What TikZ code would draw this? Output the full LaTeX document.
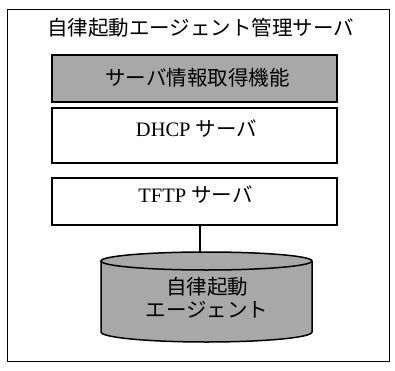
\documentclass[tikz,border=0pt]{standalone}
\usepackage{fontspec}
\setmainfont{Liberation Serif}
\newfontfamily\jp{Noto Sans CJK JP}
\definecolor{dotgray}{HTML}{A8A8A8}
\begin{document}
\begin{tikzpicture}[x=1pt,y=1pt,
  txt/.style={font=\fontsize{20.5}{24}\selectfont, inner sep=0pt},
  box/.style={draw=black, line width=1.5pt, minimum width=285pt, inner sep=0pt},
  graybox/.style={box, fill=dotgray},
  conn/.style={draw=black, line width=1.2pt}]
\useasboundingbox (0,0) rectangle (395,370);
% outer frame
\node[draw=black, line width=1pt, minimum width=382pt, minimum height=351pt, inner sep=0pt] (frame) at (198,184.5) {};
\node[txt] (title) at (200.5,342) {\jp 自律起動エージェント管理サーバ};
% boxes
\node[graybox, minimum height=47pt] (info) at (194.5,291.5) {};
\node[txt] (infot) at (197.5,292) {\jp サーバ情報取得機能};
\node[box, minimum height=55pt] (dhcp) at (194.5,234.5) {};
\node[txt] (dhcpt) at (196.5,241) {DHCP {\jp サーバ}};
\node[box, minimum height=47pt] (tftp) at (194.5,168.5) {};
\node[txt] (tftpt) at (195.5,175) {TFTP {\jp サーバ}};
% cylinder
\fill[dotgray] (101,109) -- (101,38) arc[start angle=180,end angle=360,x radius=105.5,y radius=10]
  -- (312,109) arc[start angle=0,end angle=180,x radius=105.5,y radius=9] -- cycle;
\draw[line width=1.5pt] (101,109) -- (101,38) arc[start angle=180,end angle=360,x radius=105.5,y radius=10] -- (312,109);
\draw[line width=1.5pt] (206.5,109) ellipse[x radius=105.5,y radius=9];
\coordinate (cyltop) at (200,117.7);
\node[txt] (agent1) at (207,83) {\jp 自律起動};
\node[txt] (agent2) at (207,60) {\jp エージェント};
% connector
\draw[conn] (tftp.south -| cyltop) -- (cyltop);
\end{tikzpicture}
\end{document}
